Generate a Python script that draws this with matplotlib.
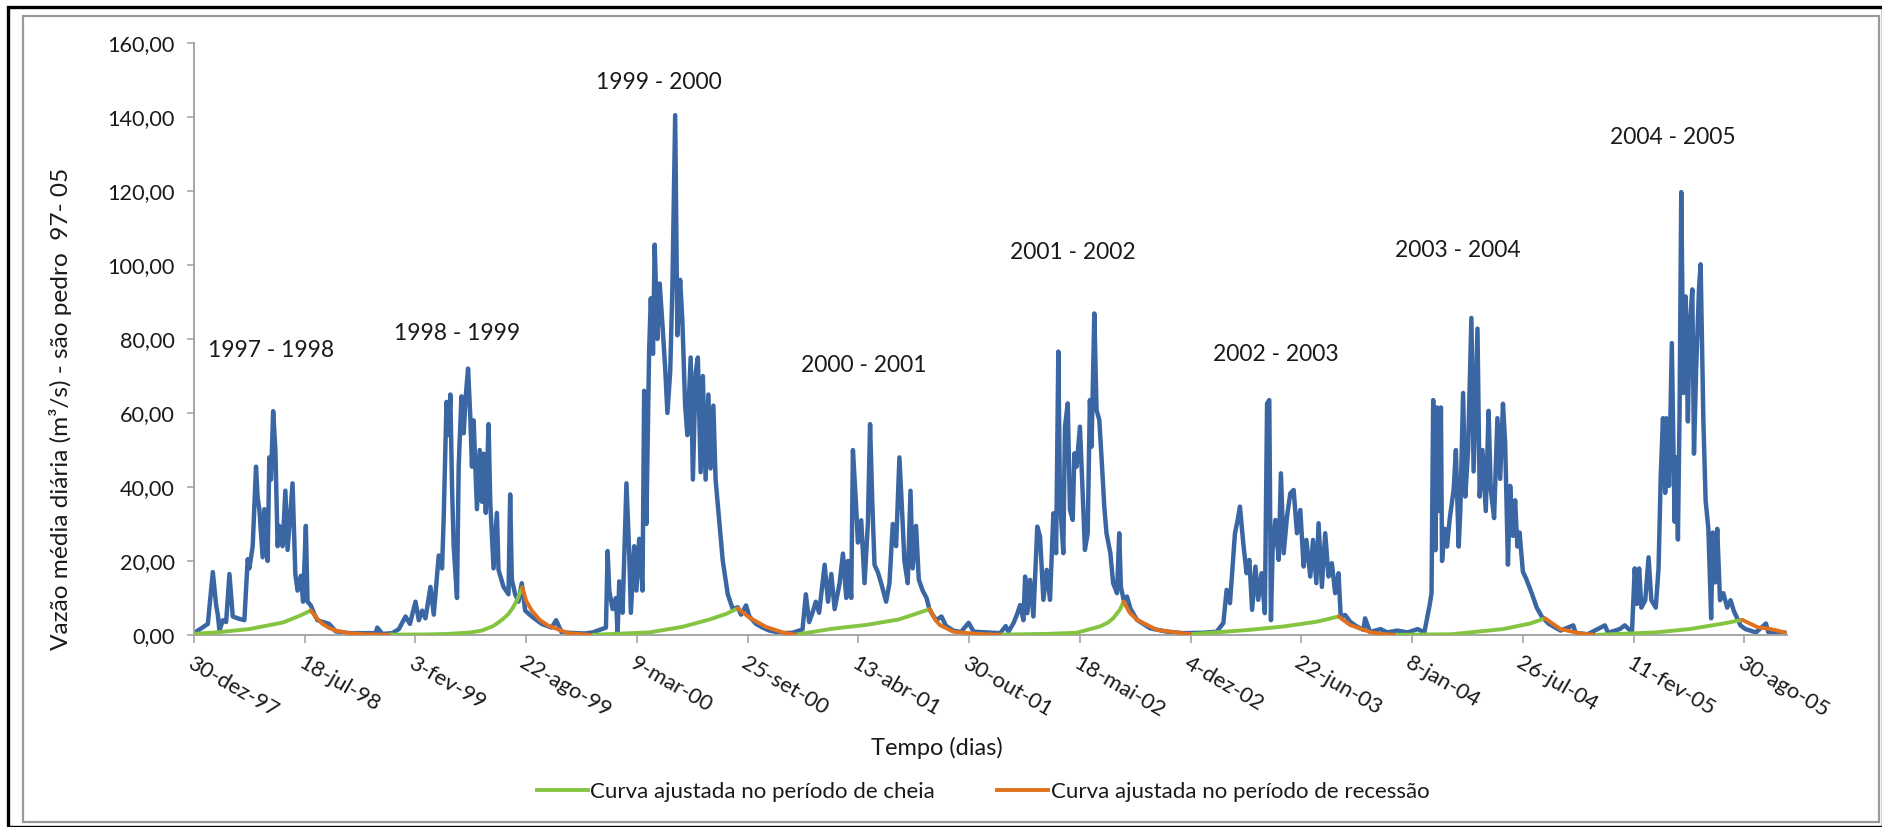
import numpy as np
import matplotlib
matplotlib.use("Agg")
import matplotlib.pyplot as plt
from matplotlib.ticker import FuncFormatter, FixedLocator
from matplotlib.patches import Rectangle
from matplotlib.lines import Line2D

plt.rcParams["font.family"] = ["Lato", "DejaVu Sans"]

# ---------------------------------------------------------------------------
# Data: daily mean flow at São Pedro, 1997-2005
# days are counted from DATA_INICIAL, flows in m³/s
# ---------------------------------------------------------------------------
DATA_INICIAL = np.datetime64("1997-12-30")
DATA_FINAL = np.datetime64("2005-11-15")

dias_9798 = [0, 25, 34, 40, 43, 46, 52, 58, 64, 70, 79, 91, 97, 100, 106, 112, 115, 118,
             124, 127, 133, 136, 139, 143, 147, 151, 154, 160, 165, 169, 173, 178, 183,
             187, 193, 197, 202, 205, 211, 217, 223, 244, 256, 280, 328, 331, 340, 358, 370]
vazao_9798 = [0.5, 3, 17, 8, 5.5, 1.2, 4, 3.5, 16.5, 5, 4.5, 4, 20.5, 18, 24, 45.5, 37, 34,
              21, 34, 20, 48, 42, 60.5, 50, 24, 29.5, 24, 39, 23, 31, 41, 16.5,
              12, 16, 9, 29.5, 9, 8, 5.7, 4, 3, 1, 0.5, 0.5, 2, 0.3, 0.5, 1.6]

dias_9899 = [382, 390, 400, 406, 412, 418, 427, 433, 442, 448, 451, 456, 460, 463, 466, 469,
             475, 478, 483, 487, 491, 495, 499, 502, 505, 511, 516, 520, 523, 527, 532, 535,
             541, 547, 550, 559, 568, 571, 574, 580, 586, 592, 598, 610, 628, 646, 654, 664,
             690, 705]
vazao_9899 = [5, 3, 9, 4, 6.6, 4.5, 13, 5.5, 21.5, 18, 32, 63, 54, 65, 40, 24,
              10, 45.5, 64.5, 54.5, 65, 72, 59, 45.5, 58, 34, 50, 36, 49, 33, 57, 36,
              18, 33, 17.6, 13, 11, 38, 15, 11, 9, 14, 6.6, 5, 3, 2, 4, 0.7,
              0.5, 0.4]

dias_9900 = [720, 744, 747, 750, 756, 762, 765, 768, 774, 781, 786, 789, 795, 799, 804, 810,
             813, 817, 822, 825, 829, 832, 837, 841, 846, 851, 855, 860, 864, 869, 873, 878,
             882, 887, 891, 897, 901, 906, 910, 915, 919, 924, 929, 933, 938, 942, 948, 955,
             964, 973, 982, 988, 997, 1003, 1015, 1027, 1039, 1063, 1081, 1099]
vazao_9900 = [0.7, 2, 22.7, 12, 7, 10, 0.5, 14.5, 6, 41, 22, 6, 24, 12, 26, 12,
              66, 30, 77, 91, 76, 105.5, 80, 95, 84, 72, 60, 71, 94, 140.5, 81, 96,
              85, 62, 54, 75, 42, 71, 75, 44, 70, 42, 65, 45, 62, 42, 32, 20,
              11, 7, 7.5, 5.5, 8, 5, 3, 2, 1.2, 0.5, 0.6, 1.5]

dias_0001 = [1105, 1111, 1117, 1123, 1129, 1139, 1145, 1151, 1157, 1166, 1172, 1178, 1181,
             1187, 1190, 1195, 1199, 1205, 1211, 1217, 1221, 1225, 1229, 1235, 1241, 1250,
             1256, 1262, 1268, 1274, 1279, 1283, 1289, 1294, 1298, 1304, 1309, 1316, 1323,
             1328, 1340, 1350, 1358, 1371, 1385, 1399, 1408, 1456]
vazao_0001 = [11, 3.5, 6, 9, 6, 19, 9, 16.5, 7, 14, 22, 10, 20,
              10, 50, 37, 25, 31, 14, 30, 57, 36, 19, 17, 14, 9,
              14, 30, 24, 48, 33, 20, 14, 39, 18, 29.5, 15, 12, 10,
              7, 4, 5, 2.5, 1.2, 0.8, 3.3, 0.9, 0.5]

dias_0102 = [1466, 1471, 1480, 1486, 1492, 1498, 1501, 1505, 1510, 1516, 1523, 1528, 1534,
             1540, 1546, 1552, 1557, 1561, 1564, 1570, 1573, 1578, 1582, 1587, 1590, 1594,
             1600, 1605, 1609, 1614, 1618, 1621, 1626, 1630, 1635, 1640, 1644, 1648, 1655,
             1660, 1667, 1671, 1674, 1679, 1685, 1691, 1703, 1727, 1757, 1787, 1823, 1847]
vazao_0102 = [2.4, 0.9, 3.2, 5.4, 8.1, 4, 15.8, 5.9, 14.9, 5, 29.3, 26.6, 9.5,
              17.6, 9.5, 32.9, 22.1, 76.6, 36.5, 22.1, 56.3, 62.6, 33.8, 31.1, 49.1, 45.5,
              56.3, 38.3, 23, 27.5, 63.5, 50.9, 86.9, 60.8, 58.1, 45.5, 34.7, 27.5, 22.1,
              14, 11.3, 27.5, 13, 9.5, 10.4, 7.2, 4.1, 1.8, 0.9, 0.5, 0.6, 0.9]

dias_0203 = [1859, 1865, 1871, 1880, 1885, 1889, 1895, 1901, 1906, 1911, 1917, 1922, 1928,
             1934, 1938, 1942, 1945, 1948, 1953, 1959, 1963, 1968, 1974, 1980, 1986, 1992,
             1998, 2004, 2009, 2016, 2021, 2027, 2031, 2037, 2043, 2049, 2055, 2061, 2067,
             2071, 2079, 2088, 2100, 2112, 2115, 2124, 2143, 2155, 2173, 2192, 2210, 2222]
vazao_0203 = [3.2, 12.2, 8.6, 27.5, 31.1, 34.7, 24.8, 16.7, 20.3, 6.8, 18.5, 9.5, 16.7,
              5.9, 62.6, 63.5, 4, 23, 31.1, 20.3, 43.7, 22.1, 32, 38.3, 39.2, 27.5,
              33.8, 18.5, 25.7, 15.8, 25.7, 14, 30.2, 13, 27.5, 15.8, 19.4, 11.3, 16.7,
              5, 5.4, 3.6, 2.3, 1.4, 4.5, 0.8, 1.6, 0.7, 1.2, 0.7, 1.6, 0.7]

dias_0304 = [2232, 2235, 2238, 2242, 2245, 2248, 2252, 2254, 2259, 2263, 2268, 2275, 2279,
             2284, 2287, 2292, 2296, 2301, 2307, 2311, 2318, 2322, 2327, 2333, 2338, 2342,
             2348, 2354, 2359, 2364, 2368, 2373, 2377, 2382, 2386, 2390, 2394, 2400, 2406,
             2416, 2425, 2434, 2446, 2468, 2491, 2495, 2517, 2548, 2554, 2575, 2584, 2591]
vazao_0304 = [8.4, 11.3, 63.5, 22.9, 61.5, 33.5, 61.5, 20, 28.7, 23.9, 31.6, 39.3, 50,
              23.9, 33.5, 65.4, 37.4, 50, 85.7, 44.2, 82.8, 37.4, 50, 33.5, 60.6, 39.3,
              31.6, 58.6, 42.2, 62.5, 51.9, 19, 40.3, 26.8, 36.4, 23.9, 27.7, 17.1, 15.2,
              11.3, 7.4, 5, 3.1, 1.2, 2.6, 0.6, 0.2, 2.6, 0.6, 1.6, 2.6, 1.6]

dias_0405 = [2597, 2602, 2606, 2610, 2614, 2621, 2627, 2632, 2640, 2645, 2649, 2653, 2657,
             2659, 2664, 2669, 2674, 2677, 2680, 2683, 2686, 2690, 2694, 2698, 2701, 2706,
             2709, 2713, 2718, 2721, 2726, 2730, 2735, 2740, 2743, 2747, 2751, 2756, 2762,
             2769, 2775, 2781, 2793, 2802, 2821, 2839, 2843, 2873]
vazao_0405 = [0.7, 18, 8.4, 18, 7.4, 9.4, 21, 9.4, 7.4, 18, 43.2, 58.6, 38.4,
              58.6, 40.3, 78.9, 30.6, 48, 25.8, 60.6, 119.7, 65.4, 91.5, 57.7, 82.8, 93.4,
              49, 72.2, 93.4, 100.2, 57.7, 36.4, 28.7, 4.5, 27.7, 14.2, 28.7, 9.4, 11.3,
              7.4, 9.4, 6.5, 2.6, 1.6, 0.7, 3.1, 0.8, 0.7]

# fitted curves: rising (cheia) and recession (recessão) limbs of each year
cheia_dias = [
    [0, 40, 100, 161, 191, 211],
    [352, 420, 460, 500, 520, 540, 550, 560, 568, 576, 583, 593],
    [720, 822, 882, 931, 961, 982],
    [1087, 1153, 1213, 1273, 1329],
    [1456, 1540, 1594, 1636, 1650, 1660, 1672, 1679],
    [1799, 1907, 1968, 2028, 2067],
    [2167, 2271, 2364, 2413, 2440],
    [2535, 2640, 2701, 2762, 2796],
]
cheia_vazao = [
    [0.3, 0.7, 1.6, 3.4, 5.2, 6.6],
    [0.1, 0.15, 0.3, 0.7, 1.2, 2.4, 3.4, 4.6, 5.7, 7.4, 9.3, 12.9],
    [0.05, 0.7, 2.2, 4.2, 5.7, 7.2],
    [0.1, 1.7, 2.7, 4.2, 7.0],
    [0.1, 0.3, 0.6, 2.3, 3.3, 4.5, 6.8, 9.0],
    [0.2, 1.4, 2.3, 3.6, 5.0],
    [0.05, 0.2, 1.6, 3.1, 4.5],
    [0.05, 0.7, 1.6, 3.1, 4.1],
]
recessao_dias = [
    [211, 222, 232, 244, 256, 280, 310, 352],
    [593, 600, 610, 625, 640, 676, 714],
    [982, 1003, 1033, 1063, 1086],
    [1329, 1338, 1347, 1371, 1414, 1456],
    [1679, 1690, 1703, 1739, 1799],
    [2067, 2088, 2124, 2143, 2167],
    [2440, 2468, 2505, 2529],
    [2796, 2824, 2848, 2873],
]
recessao_vazao = [
    [6.6, 4.5, 3.0, 1.9, 1.2, 0.5, 0.2, 0.05],
    [12.9, 9.2, 6.6, 4.0, 2.5, 0.5, 0.05],
    [7.2, 4.7, 2.2, 0.7, 0.05],
    [7.0, 4.3, 2.7, 0.9, 0.3, 0.05],
    [9.0, 6.0, 4.1, 1.4, 0.2],
    [5.0, 2.7, 0.8, 0.3, 0.05],
    [4.5, 1.6, 0.4, 0.05],
    [4.1, 2.1, 1.6, 0.7],
]

anos_hidrologicos = ["1997 - 1998", "1998 - 1999", "1999 - 2000", "2000 - 2001",
                     "2001 - 2002", "2002 - 2003", "2003 - 2004", "2004 - 2005"]

MESES = ["jan", "fev", "mar", "abr", "mai", "jun",
         "jul", "ago", "set", "out", "nov", "dez"]

# ---------------------------------------------------------------------------
# Layout (pixels in a 1883 x 827 canvas)
# ---------------------------------------------------------------------------
W, H = 1883, 827
AX_L, AX_R, AX_T, AX_B = 194, 1787, 43, 635

# (day, flow) anchor of each year label
pos_rotulos = [(140, 76.8), (475, 81.6), (840, 149.2), (1209, 72.8),
               (1588, 103.5), (1954, 75.7), (2283, 104.0), (2671, 134.5)]

AZUL = "#3B66A4"
VERDE = "#84C441"
LARANJA = "#E2711D"
CINZA = "#A6A6A6"
TEXTO = "#1a1a1a"


def fx(px):
    return px / W


def fy(py):
    return 1 - py / H


def datas(dias):
    return DATA_INICIAL + np.asarray(dias).astype("timedelta64[D]")


fig = plt.figure(figsize=(W / 100, H / 100), dpi=100)
fig.patch.set_facecolor("white")

ax = fig.add_axes([fx(AX_L), fy(AX_B), (AX_R - AX_L) / W, (AX_B - AX_T) / H])

# observed daily flow
dias_obs = np.concatenate([dias_9798, dias_9899, dias_9900, dias_0001,
                           dias_0102, dias_0203, dias_0304, dias_0405])
vazao_obs = np.concatenate([vazao_9798, vazao_9899, vazao_9900, vazao_0001,
                            vazao_0102, vazao_0203, vazao_0304, vazao_0405])
ax.plot(datas(dias_obs), vazao_obs, color=AZUL, lw=3.2, solid_joinstyle="round",
        solid_capstyle="round", zorder=2)

# fitted curves
for d, v in zip(cheia_dias, cheia_vazao):
    ax.plot(datas(d), v, color=VERDE, lw=2.8, solid_capstyle="round", zorder=3)
for d, v in zip(recessao_dias, recessao_vazao):
    ax.plot(datas(d), v, color=LARANJA, lw=2.8, solid_capstyle="round", zorder=4)

# year labels
for txt, (d, v) in zip(anos_hidrologicos, pos_rotulos):
    ax.text(datas([d])[0], v, txt, ha="center", va="center", fontsize=16.5,
            color=TEXTO, clip_on=False)

# axes
ax.set_xlim(DATA_INICIAL, DATA_FINAL)
ax.set_ylim(0, 160)
for s in ("top", "right"):
    ax.spines[s].set_visible(False)
for s in ("left", "bottom"):
    ax.spines[s].set_color(CINZA)
    ax.spines[s].set_linewidth(1.4)

ax.yaxis.set_major_locator(FixedLocator(np.arange(0, 161, 20)))
ax.yaxis.set_major_formatter(FuncFormatter(lambda v, p: f"{v:.2f}".replace(".", ",")))
ax.tick_params(axis="y", direction="out", length=5, width=1.2, color=CINZA,
               labelsize=15.6, labelcolor=TEXTO, pad=9)

ticks = datas(np.arange(0, 2801, 200))
ax.set_xticks(ticks)
rotulos_x = []
for t in ticks.astype("datetime64[D]").astype(object):
    rotulos_x.append(f"{t.day}-{MESES[t.month - 1]}-{t.year % 100:02d}")
ax.set_xticklabels(rotulos_x)
ax.tick_params(axis="x", direction="out", length=6, width=1.2, color=CINZA,
               labelsize=15.8, labelcolor=TEXTO, pad=7)
for lbl in ax.get_xticklabels():
    lbl.set_rotation(-30)
    lbl.set_rotation_mode("anchor")
    lbl.set_ha("left")
    lbl.set_va("top")

# axis titles
fig.text(fx(61), fy(409), "Vazão média diária (m³/s) - são pedro  97- 05",
         rotation=90, ha="center", va="center", fontsize=17.6, color=TEXTO)
fig.text(fx(937), fy(748), "Tempo (dias)", ha="center", va="center",
         fontsize=17, color=TEXTO)

# legend
handles = [Line2D([], [], color=VERDE, lw=2.8), Line2D([], [], color=LARANJA, lw=2.8)]
fig.legend(handles, ["Curva ajustada no período de cheia",
                     "Curva ajustada no período de recessão"],
           loc="center", bbox_to_anchor=(fx(983), fy(792)), ncol=2, frameon=False,
           fontsize=16, handlelength=2.3, handletextpad=0.1, columnspacing=2.8,
           labelcolor=TEXTO)

# chart frames
fig.add_artist(Rectangle((fx(8), fy(827)), fx(1883) - fx(8), fy(7) - fy(827),
                         transform=fig.transFigure, fill=False, ec="black", lw=2.4))
fig.add_artist(Rectangle((fx(23), fy(822)), fx(1879) - fx(23), fy(16) - fy(822),
                         transform=fig.transFigure, fill=False, ec="#9A9A9A", lw=1.6))

fig.savefig("out.png", dpi=100, facecolor="white")
